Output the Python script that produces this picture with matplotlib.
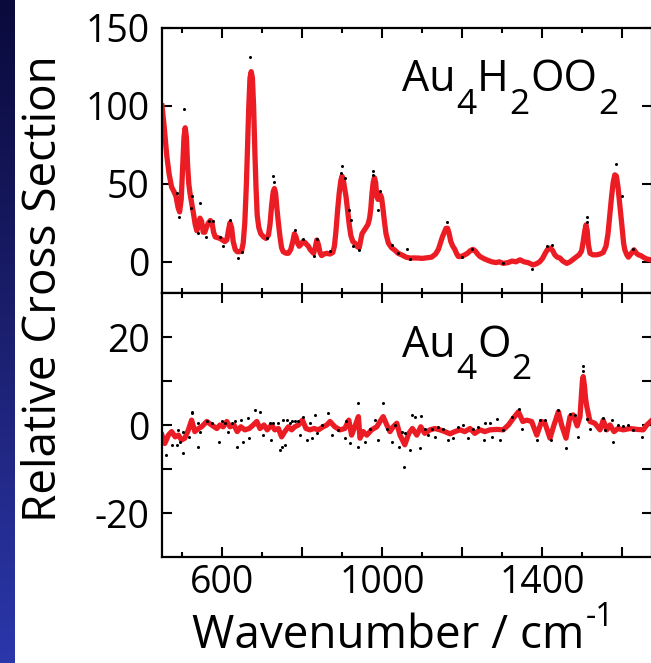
"""
Resonance spectra of two gold cluster complexes, stacked panels
Writes out.png
"""

import numpy as np
import matplotlib.pyplot as plt
from matplotlib.colors import LinearSegmentedColormap

plt.rcParams['font.family'] = ['Open Sans', 'DejaVu Sans']
plt.rcParams['axes.unicode_minus'] = False

# Au4H2OO2 - smoothed trace (wavenumber, cross section)
top_wn = [450, 455, 462, 468, 474, 480, 485, 490, 494, 498, 502, 505, 508, 511, 514, 517,
          520, 524, 528, 533, 537, 541, 545, 549, 553, 557, 561, 566, 571, 575, 579, 583,
          589, 595, 601, 607, 612, 616, 620, 624, 628, 633, 638, 644, 649, 653, 657, 661,
          664, 667, 670, 673, 676, 679, 682, 685, 688, 692, 697, 704, 710, 716, 720, 724,
          728, 731, 734, 737, 741, 745, 749, 753, 760, 766, 772, 777, 781, 785, 789, 793,
          797, 802, 807, 812, 816, 820, 825, 829, 833, 837, 841, 845, 849, 855, 862, 870,
          877, 881, 885, 889, 893, 897, 900, 903, 906, 910, 914, 918, 922, 927, 932, 937,
          943, 946, 950, 955, 960, 965, 969, 972, 975, 978, 981, 984, 987, 990, 993, 996,
          999, 1002, 1006, 1010, 1016, 1024, 1032, 1040, 1049, 1060, 1070, 1080, 1091, 1100,
          1110, 1124, 1134, 1141, 1146, 1151, 1156, 1160, 1164, 1168, 1172, 1177, 1182, 1187,
          1191, 1199, 1207, 1214, 1220, 1227, 1233, 1239, 1245, 1255, 1266, 1275, 1285, 1293,
          1303, 1315, 1325, 1335, 1345, 1355, 1365, 1378, 1388, 1395, 1402, 1408, 1414, 1420,
          1426, 1432, 1438, 1445, 1452, 1462, 1470, 1480, 1487, 1493, 1499, 1503, 1507, 1510,
          1513, 1516, 1520, 1527, 1537, 1545, 1553, 1560, 1565, 1570, 1574, 1578, 1582, 1586,
          1590, 1594, 1597, 1601, 1604, 1607, 1612, 1616, 1622, 1630, 1636, 1641, 1647, 1653,
          1660, 1670, 1675]
top_fit = [100, 88, 68, 56, 48, 45, 42, 35, 32, 40, 62, 80, 86, 80, 62, 50,
           44, 38, 32, 24, 20, 24, 28, 26, 19, 19, 22, 25, 26.5, 25, 19, 16,
           15.5, 15, 14, 13, 14, 20, 25, 22, 13, 8, 6.5, 6.5, 7, 12, 25, 50,
           75, 100, 118, 122, 118, 100, 72, 48, 30, 22, 18, 16, 15, 17, 24, 36,
           45, 47, 44, 35, 25, 16, 9, 6.5, 5.5, 5.5, 8, 13, 18, 16, 12, 10,
           11, 13, 12.5, 11, 10, 8, 6.5, 5.5, 9, 14, 11, 6, 4, 5, 5.5, 5,
           6, 10, 20, 33, 44, 52, 55, 53, 48, 42, 33, 24, 17, 13, 12, 10,
           9, 13, 18, 20, 22, 24, 28, 34, 44, 51, 54, 51, 42, 40, 42, 43,
           41, 35, 26, 18, 12, 9, 7.5, 5.5, 4.5, 3, 2.4, 2.5, 2.4, 2.2,
           2.5, 3, 5, 8, 12, 16, 19, 21.5, 21.5, 18, 13, 10, 8, 5,
           3.4, 3.5, 4.5, 5.5, 7, 8, 7, 5, 3.4, 2, 0.8, 0, -0.5, 0,
           -1, -0.5, 0.5, 0, 1.3, 0, -0.5, -2, -1, 0.2, 2.5, 5.5, 8, 8.8,
           7.5, 4.5, 3, 2.4, 0.5, -1, 0, 2, 3.4, 4.5, 7, 13, 20, 23.7,
           20, 11, 5.5, 4.5, 4.5, 5, 6, 10, 18, 31, 42, 51, 55.8, 55,
           48, 38, 31, 20, 12, 7.7, 4.5, 3, 5, 7.7, 5.5, 4.5, 4, 3,
           2, 1.3, 1]

# Au4H2OO2 - measured points
top_pts_wn = [487, 493, 506, 522, 524, 539, 545, 560, 568, 577, 595, 603, 620, 639, 649,
              670, 712, 728, 731, 782, 802, 830, 838, 870, 898, 899, 908, 918, 922, 927,
              943, 977, 978, 989, 995, 1024, 1041, 1063, 1069, 1162, 1199, 1224, 1303,
              1374, 1412, 1424, 1512, 1512, 1585, 1599, 1628]
top_pts = [44, 29, 98, 34.6, 42, 18.4, 37.6, 16, 26.5, 26.5, 15.8, 10, 27, 2.4, 6,
           131.6, 15, 55, 51, 20.5, 14.5, 3.8, 14.5, 7, 56.8, 61.7, 53.6, 33, 27, 10,
           7.7, 56, 58.3, 33, 45.7, 11, 5.5, 8, 1.6, 25.8, 3.4, 8, -0.9,
           -4.7, 10, 11, 25.8, 28.6, 62.6, 42, 8]

# Au4O2 - smoothed trace
bot_wn = [450, 457, 466, 474, 483, 491, 499, 507, 516, 524, 532, 541, 549, 562, 574, 587,
          595, 603, 612, 620, 630, 638, 647, 657, 668, 678, 687, 695, 705, 713, 724, 732,
          741, 749, 757, 766, 774, 782, 791, 801, 810, 820, 830, 841, 853, 862, 870, 882,
          895, 907, 917, 924, 932, 941, 945, 953, 962, 974, 987, 995, 1003, 1012, 1020,
          1028, 1037, 1045, 1057, 1067, 1076, 1087, 1097, 1107, 1120, 1132, 1145, 1157,
          1170, 1182, 1195, 1207, 1220, 1232, 1245, 1257, 1270, 1287, 1303, 1316, 1328,
          1341, 1352, 1362, 1374, 1387, 1399, 1407, 1420, 1430, 1441, 1449, 1460, 1470,
          1478, 1488, 1495, 1498, 1501, 1503, 1506, 1509, 1512, 1520, 1532, 1545, 1553,
          1562, 1570, 1580, 1590, 1603, 1620, 1637, 1653, 1662, 1675]
bot_fit = [-2.3, -4.2, -2.3, -1.5, -2.7, -2.3, -3.4, -3, -1.1, 1.1, -1.5, -0.8, -0.4, 0.8, 0, -0.8,
           0, -0.4, 0.8, -0.4, 0, -1.5, -0.4, -1.1, -0.8, 0, 0.8, -0.8, 0, -1.1, 0, -1.1,
           -0.8, -2.7, -1.5, -0.4, -1.1, -0.4, 0, 1.1, -0.8, -1.1, -0.8, -1.1, -0.4, 0, 0.8, -0.4,
           -1.1, -0.8, 1.1, -2.3, -0.4, 1.9, -3, -1.5, -2.3, -1.1, -0.4, 0.8, 1.9, 0, -1.5,
           -0.4, 0.4, -2.3, -4.5, -1.9, -0.8, -2.3, -0.4, -1.9, -1.1, -0.8, -1.1, -1.5,
           -2, -1.5, -1.1, -1.5, -0.8, -1.9, -1.1, -1.5, -1.1, -1, -1.1, 0, 1.5,
           3, 0.8, 1.1, 0.8, -2.3, 0.8, 0.5, -3, 0, 3, 0, -3, 1.9,
           2.3, -0.2, 1.9, 6, 10, 11, 9, 6, 4.2, 0.8, 0.4, -1.1, 1.1,
           -1.1, 0, -1.5, -0.8, -1.1, -0.8, -1, -1.1, 0, 1.1]

# Au4O2 - measured points
bot_pts_wn = [460, 475, 487, 490, 496, 502, 503, 518, 524, 526, 540, 541, 545, 562, 574,
              593, 599, 607, 616, 624, 632, 638, 647, 653, 666, 668, 683, 695, 703, 720,
              722, 728, 741, 745, 749, 753, 757, 762, 770, 774, 783, 791, 795, 803, 812,
              820, 824, 832, 837, 849, 866, 874, 891, 907, 911, 920, 941, 941, 957, 970,
              982, 991, 1002, 1012, 1024, 1032, 1042, 1049, 1054, 1057, 1071, 1076, 1082,
              1095, 1097, 1107, 1115, 1124, 1132, 1140, 1153, 1165, 1178, 1190, 1203, 1215,
              1228, 1240, 1255, 1257, 1270, 1274, 1287, 1295, 1303, 1324, 1343, 1349, 1387,
              1395, 1407, 1422, 1441, 1460, 1470, 1482, 1491, 1503, 1503, 1512, 1520, 1553,
              1557, 1574, 1578, 1590, 1603, 1616, 1628, 1649]
bot_pts = [-6.8, -4.5, -4.5, -1.1, -3.8, -1.5, -6.4, -2.7, 3, 2.7, 0.4, -4.9, -1.5, 0.8, 0.4,
           -3.8, 0.8, 0.4, -1.5, 0.4, 0.8, -4.9, 1.1, -3.8, 1.7, -3, 3.4, 3, -2.3, 0.4,
           -3.4, 0.4, 0.4, -5.7, -4.9, 1.1, -4.5, 1.1, 0.4, 0.8, 0.8, 0.9, -2.3, 1.9, -3.4,
           0.4, -3, 2.3, -1.9, 0, 2.7, -2.3, -1.1, -3, 0.8, -4.2, 4.9, -5.1, -3.8, -0.8,
           1.1, -3.4, 4.9, -0.8, -3.8, 0, -5.1, -1.5, -9.5, -1.9, -5.7, 2.3, 1.9,
           -5.3, 2, -0.8, -2.3, -0.8, -2.7, -0.4, -0.8, -3.4, -3, -0.4, 0, -3,
           -0.8, -0.4, -3.4, 0.4, 0.5, -2.7, 1.3, -3.4, -1.1, 1.9, 3.6, -0.8, -3.3,
           1.1, 1.1, -3.4, 3.4, -5.3, 2.4, 2.3, -2.8, 13.3, 12.2, 1.3, -0.8, 1.5,
           -1.1, 1.1, -3.8, 0, -0.2, 0, -1.1, -2.7]

x_major = [600, 800, 1000, 1200, 1400, 1600]
x_minor = [500, 700, 900, 1100, 1300, 1500]
x_labels = ['600', '', '1000', '', '1400', '']

W, H = 651, 663
RED = '#ec1c24'

fig = plt.figure(figsize=(W / 100, H / 100), dpi=100)
fig.patch.set_facecolor('white')

# blue slide edge on the left
strip = fig.add_axes([0, 0, 14 / W, 1])
grad = np.linspace(0, 1, 256).reshape(-1, 1)
strip.imshow(grad, aspect='auto', origin='upper',
             cmap=LinearSegmentedColormap.from_list('edge', ['#0a0a3c', '#1b1f6e', '#2b37ab']))
strip.axis('off')

ax1 = fig.add_axes([162 / W, 1 - 293 / H, 490 / W, 265 / H])
ax2 = fig.add_axes([162 / W, 1 - 557 / H, 490 / W, 264 / H])

for ax in (ax1, ax2):
    ax.set_xlim(450, 1675)
    ax.set_xticks(x_major)
    ax.set_xticks(x_minor, minor=True)
    ax.tick_params(which='both', direction='in', top=True, right=True, width=1.5,
                   labelsize=27, pad=9)
    ax.tick_params(which='major', length=7.5)
    ax.tick_params(which='minor', length=3.5)
    for sp in ax.spines.values():
        sp.set_linewidth(1.6)

ax1.set_xticklabels([])
ax2.set_xticklabels(x_labels)
ax2.tick_params(axis='x', pad=5)

ax1.set_ylim(-20, 150)
ax1.set_yticks([0, 50, 100, 150])
ax2.set_ylim(-30, 30)
ax2.set_yticks([-20, -10, 0, 10, 20])
ax2.set_yticklabels(['-20', '', '0', '', '20'])

ax1.plot(top_wn, top_fit, color=RED, lw=3.8, solid_joinstyle='round', zorder=2)
ax1.plot(top_pts_wn, top_pts, 'o', color='black', ms=2.2, mew=0, zorder=3)
ax2.plot(bot_wn, bot_fit, color=RED, lw=3.8, solid_joinstyle='round', zorder=2)
ax2.plot(bot_pts_wn, bot_pts, 'o', color='black', ms=2.2, mew=0, zorder=3)


def formula(ax, x, y, parts, size=31, drop=14, scale=0.82):
    # chain text pieces so the subscripts sit below the baseline
    t = ax.text(x, y, parts[0][0], transform=ax.transAxes, fontsize=size,
                ha='left', va='baseline')
    prev = 0
    for s, shift in parts[1:]:
        t = ax.annotate(s, xy=(1, 0), xycoords=t, xytext=(0.5, (shift - prev) * drop),
                        textcoords='offset points', ha='left', va='bottom',
                        fontsize=size * scale if shift else size)
        prev = shift


formula(ax1, 0.49, 0.762, [('Au', 0), ('4', -1), ('H', 0), ('2', -1),
                           ('OO', 0), ('2', -1)])
formula(ax2, 0.49, 0.758, [('Au', 0), ('4', -1), ('O', 0), ('2', -1)])

# axis titles
fig.text(44 / W, 1 - 289 / H, 'Relative Cross Section', rotation=90, fontsize=33,
         ha='center', va='center')
xl = ax2.text(0.062, -0.344, 'Wavenumber / cm', transform=ax2.transAxes, fontsize=33,
              ha='left', va='baseline', clip_on=False)
ax2.annotate('-1', xy=(1, 0), xycoords=xl, xytext=(1, 18), textcoords='offset points',
             ha='left', va='bottom', fontsize=23, annotation_clip=False)

fig.savefig('out.png', dpi=100, facecolor='white')
plt.close(fig)
